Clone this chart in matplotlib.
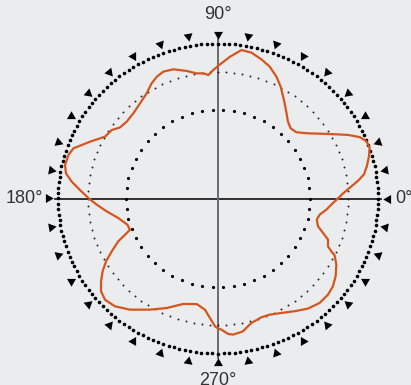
import matplotlib
matplotlib.use("Agg")
import matplotlib.pyplot as plt
import numpy as np

# radiation pattern, angle in degrees, radius normalised to the outer ring
angles = [0, 2.4, 4.8, 7.4, 9.7, 12.7, 16.2, 19.1, 21.8, 24.1, 26.8, 31.2,
          36.8, 41.1, 44.9, 48.6, 52.7, 57.0, 61.5, 65.1, 69.2, 73.2, 77.5,
          81.3, 85.3, 90, 92.0, 94.3, 96.5, 99.4, 103.4, 108.5, 112.7, 115.9,
          119.2, 123.3, 128.4, 133.9, 139.0, 143.2, 146.4, 150.5, 155.4,
          160.3, 163.3, 167.3, 170.3, 173.2, 176.4, 180, 183.0, 186.8, 191.4,
          196.6, 200.1, 201.9, 203.9, 207.2, 210.1, 213.1, 216.2, 219.3,
          222.8, 227.2, 232.5, 239.3, 245.6, 252.3, 259.0, 263.5, 266.3,
          268.7, 270, 271.4, 274.1, 276.1, 278.2, 280.3, 284.5, 289.5, 293.3,
          298.2, 303.4, 308.4, 313.3, 317.9, 321.7, 325.7, 330.0, 333.3,
          334.3, 335.8, 338.9, 341.3, 344.0, 347.5, 350.7, 353.9, 357.7, 360]
radii = [0.75, 0.782, 0.826, 0.882, 0.926, 0.954, 0.983, 1.003, 0.998, 0.970,
         0.910, 0.804, 0.702, 0.650, 0.641, 0.661, 0.704, 0.757, 0.821, 0.867,
         0.910, 0.938, 0.964, 0.969, 0.918, 0.855, 0.830, 0.799, 0.813, 0.818,
         0.846, 0.879, 0.887, 0.874, 0.851, 0.812, 0.784, 0.763, 0.756, 0.765,
         0.798, 0.811, 0.880, 0.960, 0.976, 0.980, 0.964, 0.921, 0.864, 0.807,
         0.759, 0.701, 0.636, 0.591, 0.586, 0.626, 0.682, 0.747, 0.809, 0.861,
         0.906, 0.945, 0.962, 0.948, 0.904, 0.834, 0.776, 0.714, 0.694, 0.722,
         0.773, 0.825, 0.838, 0.846, 0.876, 0.883, 0.877, 0.871, 0.830, 0.813,
         0.816, 0.838, 0.871, 0.906, 0.926, 0.926, 0.915, 0.890, 0.854, 0.816,
         0.786, 0.754, 0.737, 0.693, 0.650, 0.632, 0.644, 0.681, 0.719, 0.75]

axis_labels = ["0°", "90°", "180°", "270°"]
tick_step = 10  # degrees between the triangle marks

BG = "#ebecee"
ORANGE = "#d4561e"


def ring(ax, r, n, size, color="black"):
    t = np.linspace(0, 2 * np.pi, n, endpoint=False)
    ax.plot(r * np.cos(t), r * np.sin(t), "o", ms=size, color=color,
            mec="none", zorder=2)


fig = plt.figure(figsize=(4.11, 3.85), dpi=100, facecolor=BG)
ax = fig.add_axes([0, 0, 1, 1])
ax.set_facecolor(BG)
ax.set_xlim(-218 / 160, 193 / 160)
ax.set_ylim(-186.5 / 155, 198.5 / 155)
ax.axis("off")

# axis lines
ax.plot([-1.02, 1.02], [0, 0], color="#222222", lw=1.3, zorder=1)
ax.plot([0, 0], [-1.03, 1.03], color="#6a6a6a", lw=1.4, zorder=1)

# rings
ring(ax, 1.0, 180, 2.6)
ring(ax, 0.815, 100, 1.4, "#222222")
ring(ax, 0.575, 54, 2.3)

# triangle marks pointing inward
for a in range(0, 360, tick_step):
    t = np.radians(a)
    ax.plot(1.063 * np.cos(t), 1.063 * np.sin(t), marker=(3, 0, a + 90),
            ms=7.5, color="black", mec="none", ls="none", zorder=3)

# pattern
th = np.radians(angles)
r = np.array(radii)
ax.plot(r * np.cos(th), r * np.sin(th), color=ORANGE, lw=1.6,
        solid_joinstyle="round", zorder=4)

font = dict(family="Liberation Sans", fontsize=13, color="#333333")
ax.text(1.11, 0, axis_labels[0], ha="left", va="center", **font)
ax.text(0, 1.13, axis_labels[1], ha="center", va="bottom", **font)
ax.text(-1.09, 0, axis_labels[2], ha="right", va="center", **font)
ax.text(0, -1.12, axis_labels[3], ha="center", va="top", **font)

fig.savefig("out.png", dpi=100, facecolor=BG)
